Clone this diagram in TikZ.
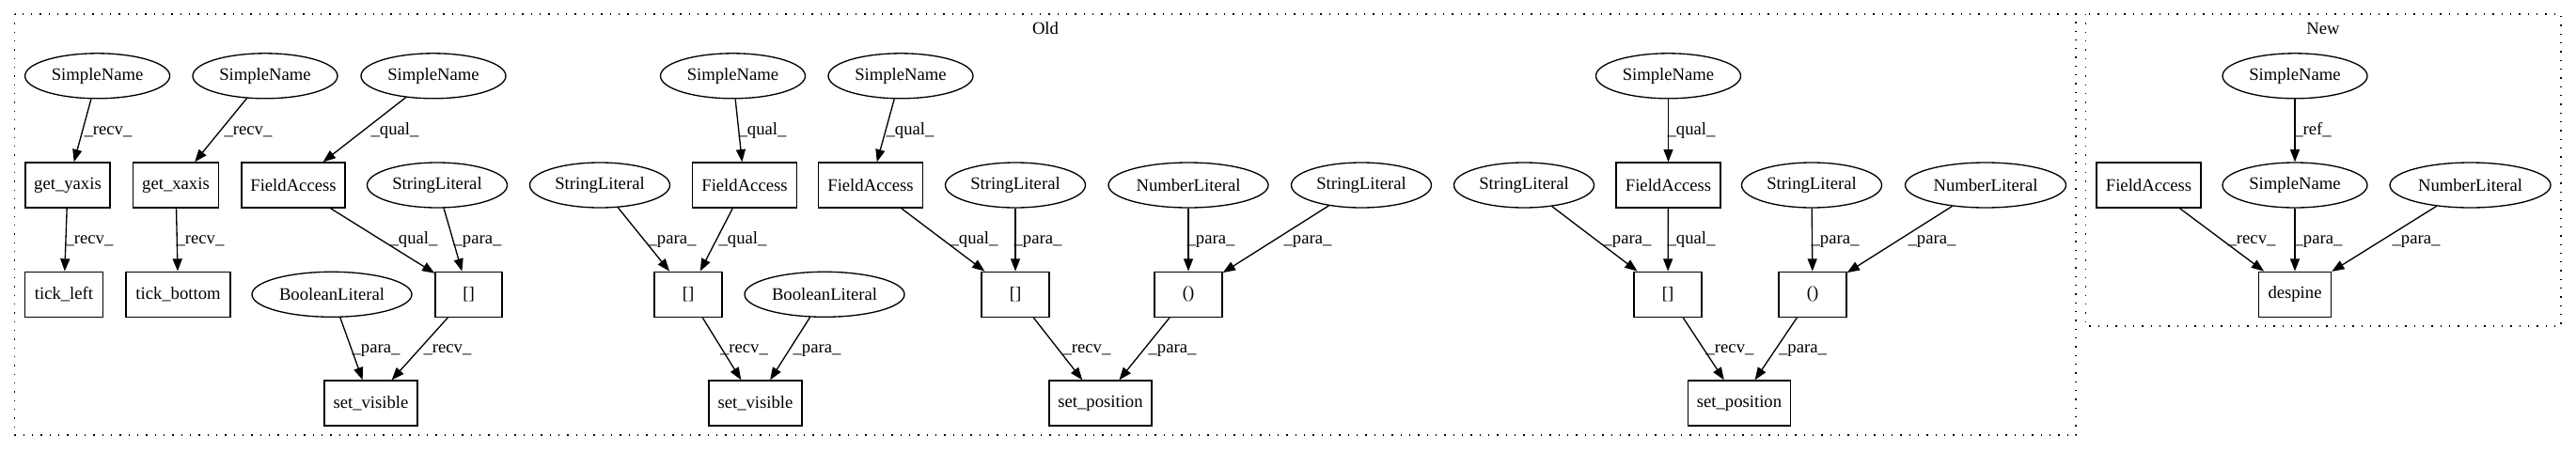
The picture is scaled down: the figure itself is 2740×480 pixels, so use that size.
\documentclass[tikz,border=0pt]{standalone}
\usepackage{fontspec}
\setmainfont{Liberation Serif}
\usetikzlibrary{shapes.geometric,arrows.meta}
\begin{document}
\begin{tikzpicture}[x=1pt,y=-1pt,
  font=\fontsize{18.67}{22}\selectfont,
  ell/.style={ellipse,draw,line width=1.33pt,minimum height=48pt,inner sep=0pt},
  box/.style={rectangle,draw,line width=1.33pt,minimum height=48pt,inner sep=0pt},
  edge/.style={draw,line width=1.33pt,-{Triangle[length=13.3pt,width=10pt]}},
  lbl/.style={inner sep=0pt,anchor=base},
  clus/.style={draw,line width=1.33pt,dash pattern=on 1.33pt off 8pt}]
\useasboundingbox (0,0) rectangle (2740,480);
% clusters
\draw[clus] (15.6,15) rectangle (2208,463);
\draw[clus] (2218.5,15) rectangle (2724,347);
\node[lbl] (oldlbl) at (1112,36) {Old};
\node[lbl] (newlbl) at (2471,36) {New};
% row 1
\node[ell,minimum width=154pt] (sn1) at (103.6,80.8) {SimpleName};
\node[ell,minimum width=154pt] (sn2) at (282,80.8) {SimpleName};
\node[ell,minimum width=154pt] (sn3) at (461,80.8) {SimpleName};
\node[ell,minimum width=154pt] (sn4) at (779.5,80.8) {SimpleName};
\node[ell,minimum width=154pt] (sn5) at (958,80.8) {SimpleName};
\node[ell,minimum width=154pt] (sn6) at (1774.5,80.8) {SimpleName};
\node[ell,minimum width=154pt] (sn7) at (2441,80.8) {SimpleName};
% row 2
\node[box,minimum width=90pt] (gy) at (72,197) {get\_yaxis};
\node[box,minimum width=91pt] (gx) at (187,197) {get\_xaxis};
\node[box,minimum width=110pt] (fa1) at (312,197) {FieldAccess};
\node[ell,minimum width=149pt] (sl1) at (465,197) {StringLiteral};
\node[ell,minimum width=149pt] (sl2) at (638,197) {StringLiteral};
\node[box,minimum width=111pt] (fa2) at (792,197) {FieldAccess};
\node[box,minimum width=111pt] (fa3) at (926,197) {FieldAccess};
\node[ell,minimum width=149pt] (sl3) at (1080,197) {StringLiteral};
\node[ell,minimum width=170pt] (nl1) at (1264,197) {NumberLiteral};
\node[ell,minimum width=149pt] (sl4) at (1448,197) {StringLiteral};
\node[ell,minimum width=149pt] (sl5) at (1621,197) {StringLiteral};
\node[box,minimum width=111pt] (fa4) at (1774.5,197) {FieldAccess};
\node[ell,minimum width=149pt] (sl6) at (1927,197) {StringLiteral};
\node[ell,minimum width=171pt] (nl2) at (2112,197) {NumberLiteral};
\node[box,minimum width=111pt] (fa5) at (2285.5,197) {FieldAccess};
\node[ell,minimum width=154pt] (sn8) at (2441,197) {SimpleName};
\node[ell,minimum width=171pt] (nl3) at (2627.5,197) {NumberLiteral};
% row 3
\node[box,minimum width=83pt] (tl) at (68,313.3) {tick\_left};
\node[box,minimum width=111pt] (tb) at (189.5,313.3) {tick\_bottom};
\node[ell,minimum width=170pt] (bl1) at (353,313.3) {BooleanLiteral};
\node[box,minimum width=71pt] (br1) at (498.5,313.3) {[]};
\node[box,minimum width=72pt] (br2) at (732,313.3) {[]};
\node[ell,minimum width=170pt] (bl2) at (877,313.3) {BooleanLiteral};
\node[box,minimum width=72pt] (br3) at (1080,313.3) {[]};
\node[box,minimum width=72pt] (pa1) at (1264,313.3) {()};
\node[box,minimum width=72pt] (br4) at (1774,313.3) {[]};
\node[box,minimum width=72pt] (pa2) at (1928,313.3) {()};
\node[box,minimum width=77pt] (desp) at (2441,313.3) {despine};
% row 4
\node[box,minimum width=99pt] (sv1) at (394.5,429) {set\_visible};
\node[box,minimum width=99pt] (sv2) at (803.5,429) {set\_visible};
\node[box,minimum width=109pt] (sp1) at (1170.5,429) {set\_position};
\node[box,minimum width=109pt] (sp2) at (1850,429) {set\_position};
% edges
\draw[edge] (sn1) -- (gy);  \node[lbl] at (115,143.5) {\_recv\_};
\draw[edge] (gy) -- (tl);   \node[lbl] at (95,259.5) {\_recv\_};
\draw[edge] (sn2) -- (gx);  \node[lbl] at (264,143.5) {\_recv\_};
\draw[edge] (gx) -- (tb);   \node[lbl] at (213,259.5) {\_recv\_};
\draw[edge] (sn3) -- (fa1); \node[lbl] at (420,143.5) {\_qual\_};
\draw[edge] (fa1) -- (br1); \node[lbl] at (440,259.5) {\_qual\_};
\draw[edge] (sl1) -- (br1); \node[lbl] at (508,259.5) {\_para\_};
\draw[edge] (bl1) -- (sv1); \node[lbl] at (400,375.5) {\_para\_};
\draw[edge] (br1) -- (sv1); \node[lbl] at (476,375.5) {\_recv\_};
\draw[edge] (sl2) -- (br2); \node[lbl] at (715,259.5) {\_para\_};
\draw[edge] (sn4) -- (fa2); \node[lbl] at (811,143.5) {\_qual\_};
\draw[edge] (fa2) -- (br2); \node[lbl] at (790,259.5) {\_qual\_};
\draw[edge] (br2) -- (sv2); \node[lbl] at (791.5,375.5) {\_recv\_};
\draw[edge] (bl2) -- (sv2); \node[lbl] at (869,375.5) {\_para\_};
\draw[edge] (sn5) -- (fa3); \node[lbl] at (968,143.5) {\_qual\_};
\draw[edge] (fa3) -- (br3); \node[lbl] at (1036,259.5) {\_qual\_};
\draw[edge] (sl3) -- (br3); \node[lbl] at (1104,259.5) {\_para\_};
\draw[edge] (nl1) -- (pa1); \node[lbl] at (1288,259.5) {\_para\_};
\draw[edge] (sl4) -- (pa1); \node[lbl] at (1391,259.5) {\_para\_};
\draw[edge] (br3) -- (sp1); \node[lbl] at (1156,375.5) {\_recv\_};
\draw[edge] (pa1) -- (sp1); \node[lbl] at (1247,375.5) {\_para\_};
\draw[edge] (sn6) -- (fa4); \node[lbl] at (1799,143.5) {\_qual\_};
\draw[edge] (sl5) -- (br4); \node[lbl] at (1731,259.5) {\_para\_};
\draw[edge] (fa4) -- (br4); \node[lbl] at (1799,259.5) {\_qual\_};
\draw[edge] (sl6) -- (pa2); \node[lbl] at (1952,259.5) {\_para\_};
\draw[edge] (nl2) -- (pa2); \node[lbl] at (2055,259.5) {\_para\_};
\draw[edge] (br4) -- (sp2); \node[lbl] at (1840,375.5) {\_recv\_};
\draw[edge] (pa2) -- (sp2); \node[lbl] at (1917.5,375.5) {\_para\_};
\draw[edge] (sn7) -- (sn8); \node[lbl] at (2460,143.5) {\_ref\_};
\draw[edge] (fa5) -- (desp); \node[lbl] at (2395,259.5) {\_recv\_};
\draw[edge] (sn8) -- (desp); \node[lbl] at (2466,259.5) {\_para\_};
\draw[edge] (nl3) -- (desp); \node[lbl] at (2570,259.5) {\_para\_};
\end{tikzpicture}
\end{document}
